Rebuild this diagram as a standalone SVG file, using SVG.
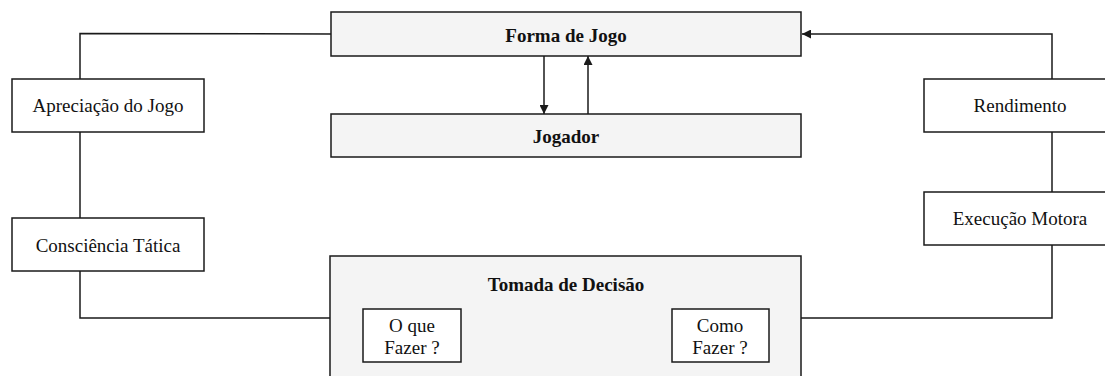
<svg xmlns="http://www.w3.org/2000/svg" width="1105" height="376" viewBox="0 0 1105 376">
<style>
.box{fill:#ffffff;stroke:#1a1a1a;stroke-width:1.5}
.shade{fill:#f4f4f4;stroke:#1a1a1a;stroke-width:1.5}
.t{font-family:"Liberation Serif","Times New Roman",serif;font-size:19px;fill:#111;text-anchor:middle}
.b{font-weight:bold}
.c{fill:none;stroke:#1a1a1a;stroke-width:1.5}
</style>
<defs>
<marker id="ah" viewBox="0 0 10 10" refX="10" refY="5" markerWidth="9" markerHeight="9" markerUnits="userSpaceOnUse" orient="auto">
<path d="M0,0 L10,5 L0,10 z" fill="#1a1a1a"/>
</marker>
</defs>
<rect width="1105" height="376" fill="#ffffff"/>
<g id="connectors">
<path class="c" d="M331,34 L80,33.5 L80,79"/>
<path class="c" d="M80,132 L80,218"/>
<path class="c" d="M80,271 L80,318 L330,318"/>
<path class="c" d="M801,318 L1052,318 L1052,245"/>
<path class="c" d="M1052,192 L1052,132"/>
<path class="c" d="M1052,79 L1052,34 L802,34" marker-end="url(#ah)"/>
<path class="c" d="M544,56 L544,114" marker-end="url(#ah)"/>
<path class="c" d="M588,114 L588,56" marker-end="url(#ah)"/>
</g>
<g id="forma">
<rect class="shade" x="331" y="12" width="470" height="44"/>
<text class="t b" x="566" y="42">Forma de Jogo</text>
</g>
<g id="jogador">
<rect class="shade" x="331" y="114" width="470" height="43"/>
<text class="t b" x="566" y="143">Jogador</text>
</g>
<g id="apreciacao">
<rect class="box" x="12" y="79" width="192" height="53"/>
<text class="t" x="108" y="112">Apreciação do Jogo</text>
</g>
<g id="consciencia">
<rect class="box" x="12" y="218" width="192" height="53"/>
<text class="t" x="108" y="252">Consciência Tática</text>
</g>
<g id="rendimento">
<rect class="box" x="924" y="79" width="184" height="53"/>
<text class="t" x="1020" y="112">Rendimento</text>
</g>
<g id="execucao">
<rect class="box" x="924" y="192" width="184" height="53"/>
<text class="t" x="1020" y="225">Execução Motora</text>
</g>
<g id="tomada">
<rect class="shade" x="330" y="256" width="471" height="130"/>
<text class="t b" x="566" y="291">Tomada de Decisão</text>
</g>
<g id="oque">
<rect class="box" x="363" y="309" width="98" height="53"/>
<text class="t" x="412" y="332">O que</text>
<text class="t" x="412" y="354">Fazer ?</text>
</g>
<g id="como">
<rect class="box" x="672" y="309" width="97" height="53"/>
<text class="t" x="720" y="332">Como</text>
<text class="t" x="720" y="354">Fazer ?</text>
</g>
</svg>
